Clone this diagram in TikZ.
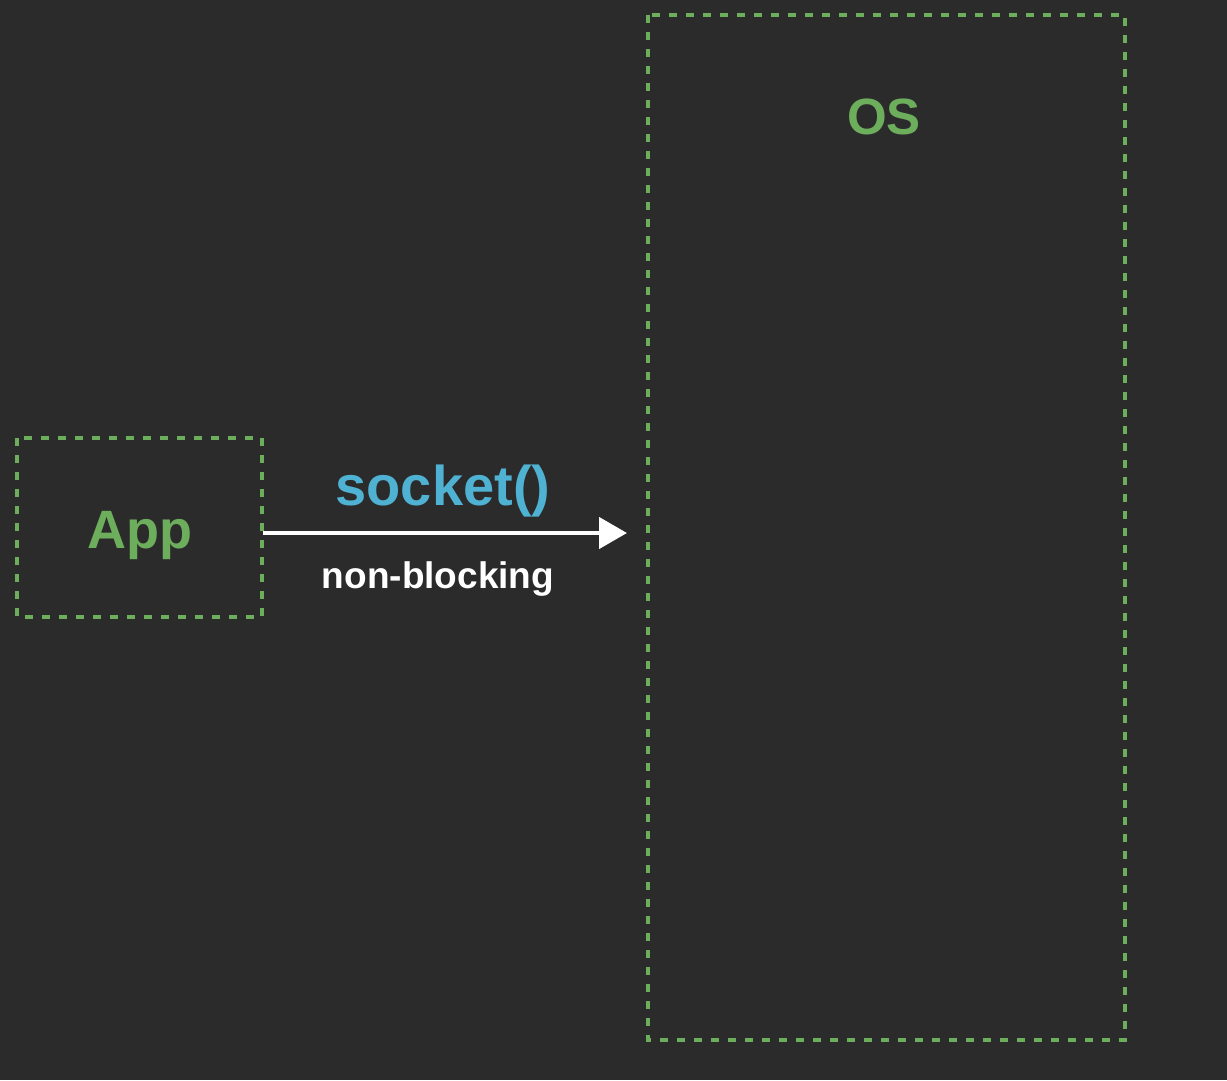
\documentclass[tikz,border=0pt]{standalone}
\usepackage{fontspec}
\setmainfont{Liberation Sans}
\usetikzlibrary{arrows.meta}
\definecolor{bg}{HTML}{2B2B2B}
\definecolor{grn}{HTML}{6DAE5C}
\definecolor{blu}{HTML}{4FB2D2}
\tikzset{
  dbox/.style={draw=grn, line width=3.5pt, dash pattern=on 8pt off 9pt},
  lbl/.style={font=\bfseries, text=grn, inner sep=0pt},
}
\begin{document}
\begin{tikzpicture}[x=1pt,y=-1pt]
\fill[bg] (0,0) rectangle (1227,1080);
\useasboundingbox (0,0) rectangle (1227,1080);
\draw[dbox] (17,438) rectangle (262,617);
\draw[dbox] (648,15) rectangle (1125,1040);
\coordinate (appE) at (263,533);
\coordinate (osW) at (627,533);
\node[lbl, font=\fontsize{54}{60}\selectfont\bfseries, anchor=base] (app) at (140,548) {App};
\node[lbl, font=\fontsize{51}{56}\selectfont\bfseries, anchor=base] (os) at (884,134) {OS};
\draw[white, line width=4.5pt, -{Triangle[length=28pt,width=31pt]}] (appE) -- (osW);
\node[inner sep=0pt, text=blu, font=\fontsize{56}{60}\selectfont\bfseries, anchor=base] (sock) at (443,505) {socket()};
\node[inner sep=0pt, text=white, font=\fontsize{37}{42}\selectfont\bfseries, anchor=base] (nb) at (438,588) {non-blocking};
\end{tikzpicture}
\end{document}
